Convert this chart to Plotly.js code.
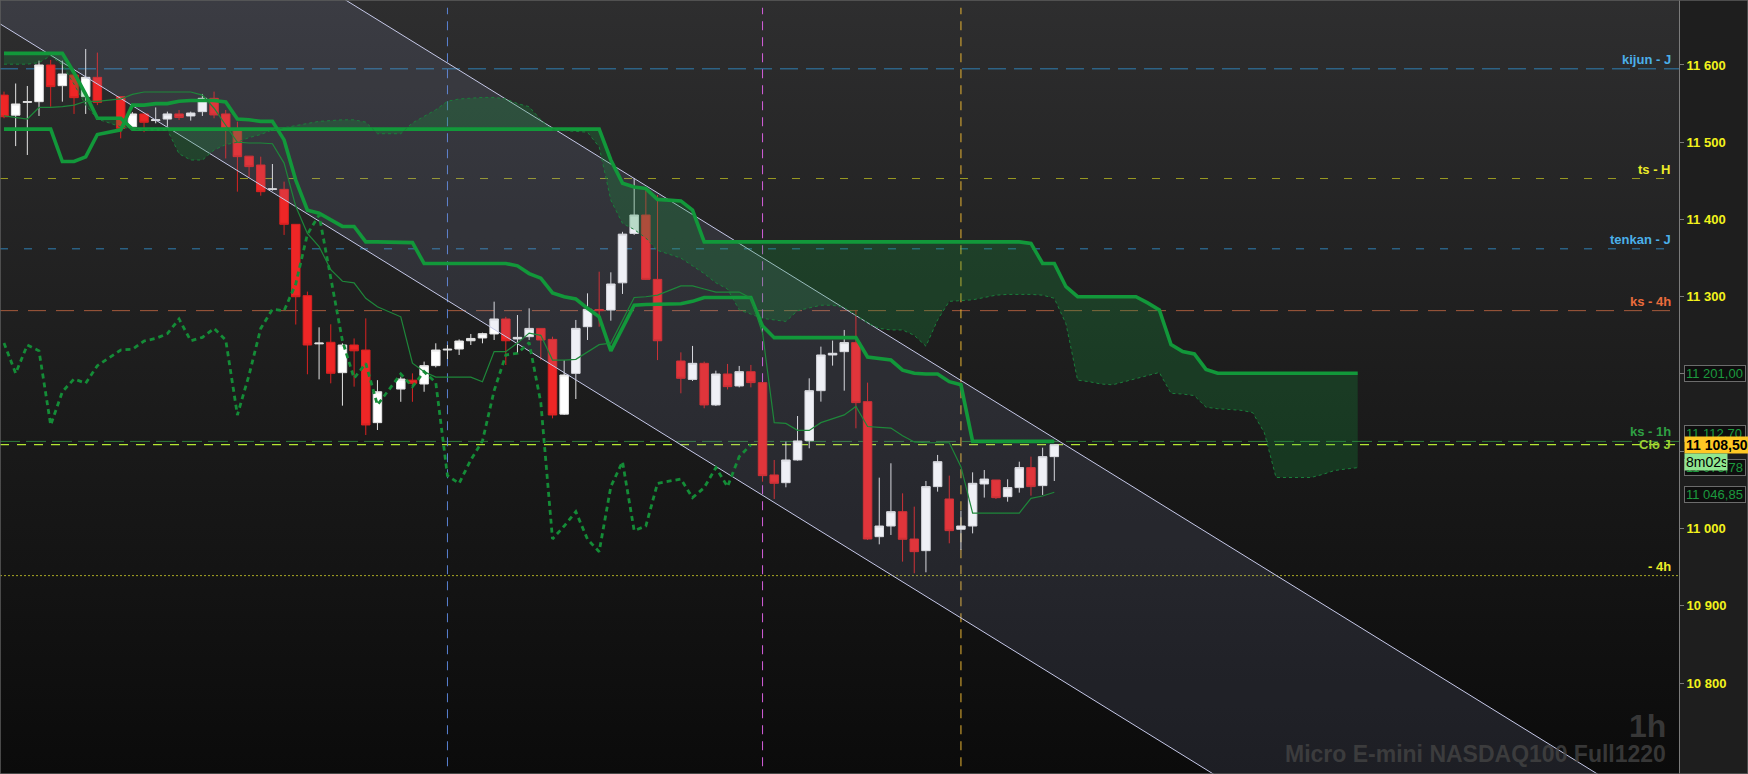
<!DOCTYPE html>
<html>
<head>
<meta charset="utf-8">
<script src="https://cdn.plot.ly/plotly-3.0.1.min.js"></script>
<style>
  html, body { margin: 0; padding: 0; background: #1e1e1e; overflow: hidden; }
  #chart {
    width: 1748px; height: 774px;
    background: linear-gradient(to bottom, #2e2e2f 0%, #1c1c1c 50%, #0b0b0b 100%) 0 0 / 1679px 100% no-repeat, #1e1e1e;
  }
</style>
</head>
<body>
<div id="chart"></div>
<script>
// Micro E-mini NASDAQ100, 1h bars; one slot per hour, null = no bar in that slot
const opens = [
  11561, 11535, 11551.6, 11552.5, 11600, 11573.2, 11587, 11559, 11584, null,
  11559, 11520, 11536.6, 11528, 11530, 11536.6, 11534, 11539.6, 11556.8, 11536.6,
  11515, 11482, 11470.5, 11439, 11439, 11393.7, 11301.4, 11239, 11241, 11201.7,
  11237.5, 11231, 11137, null, 11180.5, 11192, 11187, 11210.8, 11231, 11232.3,
  11243, 11246.6, 11251.8, 11271.2, 11245.3, 11248.3, 11259, 11244.8, 11148, 11200.8,
  11261.2, 11283.5, 11282.8, 11318, 11382, 11405.8, 11322.5, null, 11216.8, 11193,
  11213.8, 11159.9, 11200, 11184.5, 11203, 11188.8, 11069.3, 11059.3, 11088.7, 11113.7,
  11178.4, 11224.6, 11228.9, 11240.6, 11164.2, 10989.4, 11003.2, 11021.8, 10986.4, 10971.3,
  11054.2, 11038.2, 10999, 11003.2, 11057.6, 11062.8, 11041.2, 11052.9, 11078.8, 11055.5,
  11093
];
const highs = [
  11565.5, 11576, 11572.8, 11605.6, 11606.5, 11605.6, 11591.4, 11620.7, 11616, null,
  11559, 11539, 11537, 11545, 11539.6, 11541.7, 11539.6, 11562.5, 11565.5, 11541.7,
  11526.6, 11482, 11481.3, 11471.8, 11449, 11393.7, 11306.6, 11260.4, 11264.3, 11239.7,
  11246, 11272, 11192, null, 11196.5, 11200.8, 11216, 11239.7, 11237.5, 11244.8,
  11251.8, 11253.5, 11293.6, 11274, 11276.3, 11285, 11259, 11248.3, 11218, 11269.9,
  11304.4, 11332.4, 11331.6, 11384, 11453.7, 11438, 11431.7, null, 11228, 11236.3,
  11216, 11204.3, 11213, 11210.4, 11211.7, 11188.8, 11088.7, 11112.4, 11145.6, 11194.4,
  11235.4, 11243.2, 11257, 11282.9, 11188.8, 11065.8, 11084.4, 11045.5, 11028.3, 11061.5,
  11095.2, 11068.4, 11023, 11072.7, 11075.7, 11062.8, 11063.7, 11086.5, 11093, 11104.6,
  11108.5
];
const lows = [
  11531, 11495, 11483.5, 11534, 11546, 11552.5, 11536.6, 11536.6, 11548, null,
  11505, 11519, 11513, 11524.5, 11520, 11528.8, 11528, 11534, 11531, 11479,
  11436, 11455, 11430.8, 11437.3, 11380, 11264, 11199.6, 11193, 11187.9, 11159,
  11183.6, 11121, 11127.5, null, 11164, 11164, 11177, 11208.6, 11219.4, 11224.6,
  11237.5, 11239.7, 11244, 11211.6, 11227.6, 11244, 11218, 11142.6, 11146.9, 11167.6,
  11244, 11261.2, 11269, 11303.6, 11380, 11321.6, 11218, null, 11175, 11191,
  11155.6, 11158.6, 11180, 11182.7, 11182.7, 11060.6, 11038.2, 11053.3, 11087.8, 11103.8,
  11164.2, 11210.8, 11178.4, 11129.7, 10985.1, 10979.5, 10991.6, 10957.1, 10942, 10943.3,
  11047.7, 10980.8, 10972.2, 10993.7, 11040, 11038.2, 11034.7, 11046.4, 11042.5, 11043.4,
  11061.5
];
const closes = [
  11533, 11549.5, 11552.5, 11600, 11572, 11588.3, 11557.7, 11584, 11551.7, null,
  11518, 11536.6, 11525.8, 11529, 11536.6, 11532, 11537.8, 11556.8, 11535.3, 11518,
  11481.3, 11468.4, 11436, 11439.6, 11393.7, 11300, 11237.5, 11240, 11200.9, 11237.5,
  11230, 11134, 11177, null, 11193.5, 11188, 11210.8, 11231, 11232, 11242.7,
  11246, 11252.2, 11271.2, 11243, 11247.4, 11259, 11244, 11146.9, 11198.7, 11259,
  11283.7, 11282, 11316.5, 11381, 11405.8, 11322.5, 11243, null, 11194.4, 11213.8,
  11159.9, 11200, 11183.6, 11203, 11188.8, 11068.4, 11058.5, 11088.7, 11113.3, 11178.4,
  11224.6, 11226.8, 11240.6, 11162.9, 10986.4, 11003.2, 11021.8, 10986, 10970, 11054.2,
  11086.5, 10997.2, 11003.2, 11058.5, 11064, 11039.9, 11052.9, 11078.8, 11054.2, 11093,
  11108.5
];

// Ichimoku lines
const kijun = [
  11517, 11517, 11517, 11517, 11517, 11475, 11475, 11481, 11510, null,
  11516, 11548, 11548, 11550, 11550, 11553, 11554, 11554, 11554, 11552,
  11530, 11529, 11527, 11527, 11503, 11451, 11412, 11408, 11400, 11391,
  11391, 11371, 11371, null, 11370, 11370, 11343, 11343, 11343, 11343,
  11343, 11343, 11343, 11343, 11340, 11330, 11324, 11305, 11300, 11297,
  11285, 11274, 11230, 11260, 11289, 11290, 11290, null, 11291, 11294,
  11299, 11299, 11299, 11299, 11299, 11262, 11247, 11247, 11247, 11247,
  11247, 11247, 11247, 11247, 11222, 11220, 11218, 11205, 11201, 11200,
  11200, 11190, 11186, 11112.7, 11112.7, 11112.7, 11112.7, 11112.7, 11112.7, 11112.7,
  11112.7
];
const tenkan = [
  11534, 11532, 11530, 11545, 11545, 11546, 11548, 11553, 11553, null,
  11556, 11562, 11565, 11565, 11565, 11565, 11565, 11561, 11544, 11522,
  11500, 11499, 11499, 11498, 11473, 11417, 11382, 11365, 11335, 11320,
  11318, 11298, 11287, null, 11274, 11214, 11203, 11196, 11196, 11196,
  11196, 11190, 11229, 11229, 11240, 11253, 11250, 11218, 11218, 11219,
  11228, 11238, 11240, 11270, 11299, 11300, 11302, null, 11314, 11314,
  11310, 11306, 11306, 11306, 11298, 11253, 11137, 11136, 11127, 11127,
  11137, 11142, 11147, 11158, 11132, 11131, 11130, 11120, 11112, 11111,
  11111, 11111, 11080, 11020, 11020, 11020, 11020, 11020, 11039, 11042,
  11046.85
];
const senkouB = [
  11615, 11615, 11615, 11615, 11615, 11615, 11590, 11562, 11531, null,
  11531, 11517, 11517, 11517, 11517, 11517, 11517, 11517, 11517, 11517,
  11517, 11517, 11517, 11517, 11517, 11517, 11517, 11517, 11517, 11517,
  11517, 11517, 11517, null, 11517, 11517, 11517, 11517, 11517, 11517,
  11517, 11517, 11517, 11517, 11517, 11517, 11517, 11517, 11517, 11517,
  11517, 11517, 11477, 11447, 11442, 11440, 11426, null, 11424, 11412,
  11371, 11371, 11371, 11371, 11371, 11371, 11371, 11371, 11371, 11371,
  11371, 11371, 11371, 11371, 11371, 11371, 11371, 11371, 11371, 11371,
  11371, 11371, 11371, 11371, 11371, 11371, 11371, 11371, 11369, 11343,
  11343, 11313, 11300, 11300, 11300, 11300, 11300, 11300, 11292, 11283,
  11238, 11229, 11226, 11206, 11201, 11201, 11201, 11201, 11201, 11201,
  11201, 11201, 11201, 11201, 11201, 11201, 11201
];
const senkouA = [
  11601, 11601, 11601, 11603, 11612, 11600, 11575, 11548, 11530, null,
  11520, 11517, 11516, 11516, 11516, 11485, 11477, 11477, 11490, 11497,
  11500, 11506, 11510, 11516, 11519, 11521, 11524, 11527, 11528, 11529,
  11529, 11526, 11511, null, 11511, 11525, 11533, 11542, 11553, 11556,
  11557, 11558, 11558, 11556, 11550, 11546, 11529, 11516, 11515, 11514,
  11513, 11494, 11425, 11395, 11387, 11376, 11360, null, 11350, 11340,
  11330, 11318, 11310, 11283, 11277, 11272, 11270, 11268, 11282, 11286,
  11289, 11289, 11286, 11276, 11266, 11259, 11257, 11257, 11250, 11236,
  11270, 11294, 11295, 11296, 11299, 11302, 11303, 11303, 11303, 11302,
  11298, 11265, 11192, 11190, 11187, 11186, 11190, 11194, 11198, 11202,
  11175, 11174, 11172, 11157, 11155, 11154, 11153, 11150, 11124, 11066,
  11066, 11066, 11066, 11070, 11075, 11077, 11078.78
];
const chikou = [
  11240, 11200.9, 11237.5, 11230, 11134, 11177, 11193.5, 11188, 11210.8, null,
  11231, 11232, 11242.7, 11246, 11252.2, 11271.2, 11243, 11247.4, 11259, 11244,
  11146.9, 11198.7, 11259, 11283.7, 11282, 11316.5, 11381, 11405.8, 11322.5, 11243,
  11194.4, 11213.8, 11159.9, null, 11200, 11183.6, 11203, 11188.8, 11068.4, 11058.5,
  11088.7, 11113.3, 11178.4, 11224.6, 11226.8, 11240.6, 11162.9, 10986.4, 11003.2, 11021.8,
  10986, 10970, 11054.2, 11086.5, 10997.2, 11003.2, 11058.5, null, 11064, 11039.9,
  11052.9, 11078.8, 11054.2, 11093, 11108.5
];

// descending channel drawn on the chart (two anchor slots, prices)
const channelSlots = [-1, 150];
const channelLow = [11659.4, 10249.1];
const channelHigh = [11966.8, 10556.5];

// horizontal levels, right labels
const levelNames = ['kijun - J', 'ts - H', 'tenkan - J', 'ks - 4h', 'ks - 1h', 'Clo J', '- 4h'];
const levelValues = [11595, 11453, 11362, 11282, 11112.7, 11108.5, 10939];

// vertical session markers (slot)
const markerSlots = [38, 65, 82];

// price axis
const priceTicks = [10800, 10900, 11000, 11100, 11200, 11300, 11400, 11500, 11600];
const priceTickLabels = ['10 800', '10 900', '11 000', '', '', '11 300', '11 400', '11 500', '11 600'];

// value tags on the axis
const tagValues = [11201.00, 11112.70, 11078.78, 11046.85];
const tagLabels = ['11 201,00', '11 112,70', '11 078,78', '11 046,85'];
const lastPrice = 11108.50;
const lastPriceLabel = '11 108,50';
const countdownLabel = '8m02s';

const FONT = 'Liberation Sans, Arial, sans-serif';
const GREEN = 'rgb(18,152,58)';

function keep(arr) {
  const x = [], y = [];
  arr.forEach((v, i) => { if (v !== null) { x.push(i); y.push(v); } });
  return { x, y };
}

const slots = opens.map((_, i) => i);
const ssb = keep(senkouB), ssa = keep(senkouA), kj = keep(kijun), tk = keep(tenkan), ck = keep(chikou);

const traces = [
  { type: 'scatter', mode: 'lines', x: channelSlots, y: channelLow,
    line: { color: '#c6c9e8', width: 1 }, hoverinfo: 'skip' },
  { type: 'scatter', mode: 'lines', x: channelSlots, y: channelHigh, fill: 'tonexty',
    fillcolor: 'rgba(140,146,190,0.14)', line: { color: '#c6c9e8', width: 1 }, hoverinfo: 'skip' },
  { type: 'scatter', mode: 'lines', x: ssb.x, y: ssb.y,
    line: { color: GREEN, width: 3.6 }, hoverinfo: 'skip' },
  { type: 'scatter', mode: 'lines', x: ssa.x, y: ssa.y, fill: 'tonexty',
    fillcolor: 'rgba(20,150,60,0.25)', line: { color: 'rgb(26,125,58)', width: 1, dash: '3px,3px' }, hoverinfo: 'skip' },
  { type: 'scatter', mode: 'lines', x: kj.x, y: kj.y,
    line: { color: GREEN, width: 3.6 }, hoverinfo: 'skip' },
  { type: 'scatter', mode: 'lines', x: tk.x, y: tk.y,
    line: { color: 'rgb(30,135,58)', width: 1.2 }, hoverinfo: 'skip' },
  { type: 'scatter', mode: 'lines', x: ck.x, y: ck.y,
    line: { color: 'rgb(20,140,55)', width: 2.8, dash: '5px,4px' }, hoverinfo: 'skip' },
  { type: 'candlestick', x: slots, open: opens, high: highs, low: lows, close: closes,
    increasing: { line: { color: '#e4e4e4', width: 1 }, fillcolor: '#ffffff' },
    decreasing: { line: { color: '#d82222', width: 1 }, fillcolor: '#ee2626' },
    whiskerwidth: 0, hoverinfo: 'skip' }
];

const levelStyle = {
  'kijun - J':  { line: '#2f7fb3', text: '#4bb0ea', dash: '18px,8px', width: 1 },
  'ts - H':     { line: '#9a9a22', text: '#ecec28', dash: '8px,16px', width: 1 },
  'tenkan - J': { line: '#2f7fb3', text: '#4bb0ea', dash: '8px,16px', width: 1 },
  'ks - 4h':    { line: '#a45a3c', text: '#ea6c3c', dash: '18px,10px', width: 1 },
  'ks - 1h':    { line: '#2f7a3a', text: '#2fa044', dash: '20px,6px', width: 1 },
  'Clo J':      { line: '#b4e632', text: '#9ad232', dash: '9px,8px', width: 1.4 },
  '- 4h':       { line: '#a8a824', text: '#ecec28', dash: '2px,2px', width: 1 }
};
const markerColors = ['#5a82d4', '#d45fdc', '#e8b432'];

const shapes = [];
const annotations = [];

levelNames.forEach((name, i) => {
  const st = levelStyle[name];
  shapes.push({ type: 'line', xref: 'paper', x0: 0, x1: 1, yref: 'y', y0: levelValues[i], y1: levelValues[i],
    line: { color: st.line, width: st.width, dash: st.dash }, layer: 'below' });
  annotations.push({ xref: 'paper', x: 0.9965, xanchor: 'right', yref: 'y', y: levelValues[i], yanchor: 'bottom',
    yshift: name === 'Clo J' ? -9 : 0,
    text: name, showarrow: false, font: { family: FONT, size: 13, color: st.text, weight: 'bold' } });
});

markerSlots.forEach((s, i) => {
  shapes.push({ type: 'line', xref: 'x', x0: s, x1: s, yref: 'paper', y0: 0.01, y1: 0.99,
    line: { color: markerColors[i], width: 1, dash: '9px,7px' }, layer: 'below' });
});

// outer frame
shapes.push({ type: 'rect', xref: 'paper', x0: 0, x1: 1748 / 1679, yref: 'paper', y0: 0, y1: 1,
  line: { color: '#5e5e5e', width: 1.5 }, fillcolor: 'rgba(0,0,0,0)' });

const tagX = 1684 / 1679;
const tagShift = [0, 8, 0, -2];
tagValues.forEach((v, i) => {
  annotations.push({ xref: 'paper', x: tagX, xanchor: 'left', yref: 'y', y: v, yanchor: 'middle', yshift: tagShift[i],
    text: tagLabels[i], showarrow: false, width: 58, height: 13, align: 'left',
    bgcolor: '#0e0e0e', bordercolor: '#6c6c6c', borderwidth: 1, borderpad: 1,
    font: { family: FONT, size: 13, color: '#1c9a3e' } });
});
annotations.push({ xref: 'paper', x: tagX, xanchor: 'left', yref: 'y', y: lastPrice, yanchor: 'middle',
  text: lastPriceLabel, showarrow: false, width: 66, height: 14, align: 'left',
  bgcolor: '#ffc824', borderpad: 1, font: { family: FONT, size: 14, color: '#000000', weight: 'bold' } });
annotations.push({ xref: 'paper', x: tagX, xanchor: 'left', yref: 'y', y: lastPrice, yanchor: 'middle', yshift: -17,
  text: countdownLabel, showarrow: false, width: 40, height: 14, align: 'left',
  bgcolor: '#90e690', borderpad: 1, font: { family: FONT, size: 14, color: '#000000' } });

// watermark
annotations.push({ xref: 'paper', x: 1668 / 1679, xanchor: 'right', yref: 'paper', y: 0.036, yanchor: 'bottom',
  text: '1h', showarrow: false, font: { family: FONT, size: 32, color: 'rgba(70,70,70,0.75)', weight: 'bold' } });
annotations.push({ xref: 'paper', x: 1668 / 1679, xanchor: 'right', yref: 'paper', y: 0.006, yanchor: 'bottom',
  text: 'Micro E-mini NASDAQ100 Full1220', showarrow: false,
  font: { family: FONT, size: 23, color: 'rgba(70,70,70,0.75)', weight: 'bold' } });

const layout = {
  width: 1748, height: 774,
  margin: { l: 0, r: 69, t: 0, b: 0 },
  paper_bgcolor: 'rgba(0,0,0,0)',
  plot_bgcolor: 'rgba(0,0,0,0)',
  showlegend: false,
  boxgap: 0.27, boxgroupgap: 0,
  xaxis: { range: [-0.343, 143.53], visible: false, showgrid: false, zeroline: false,
    rangeslider: { visible: false }, fixedrange: true },
  yaxis: { side: 'right', range: [10682.2, 11684.1], tickmode: 'array', tickvals: priceTicks, ticktext: priceTickLabels,
    tickfont: { family: FONT, size: 13, color: '#f2f21c', weight: 'bold' },
    showgrid: false, zeroline: false, showline: true, linecolor: '#7b7b7b', linewidth: 1,
    ticks: 'outside', ticklen: 4, tickcolor: '#7b7b7b', fixedrange: true },
  shapes, annotations
};

Plotly.newPlot('chart', traces, layout, { displayModeBar: false, staticPlot: true });
</script>
</body>
</html>
